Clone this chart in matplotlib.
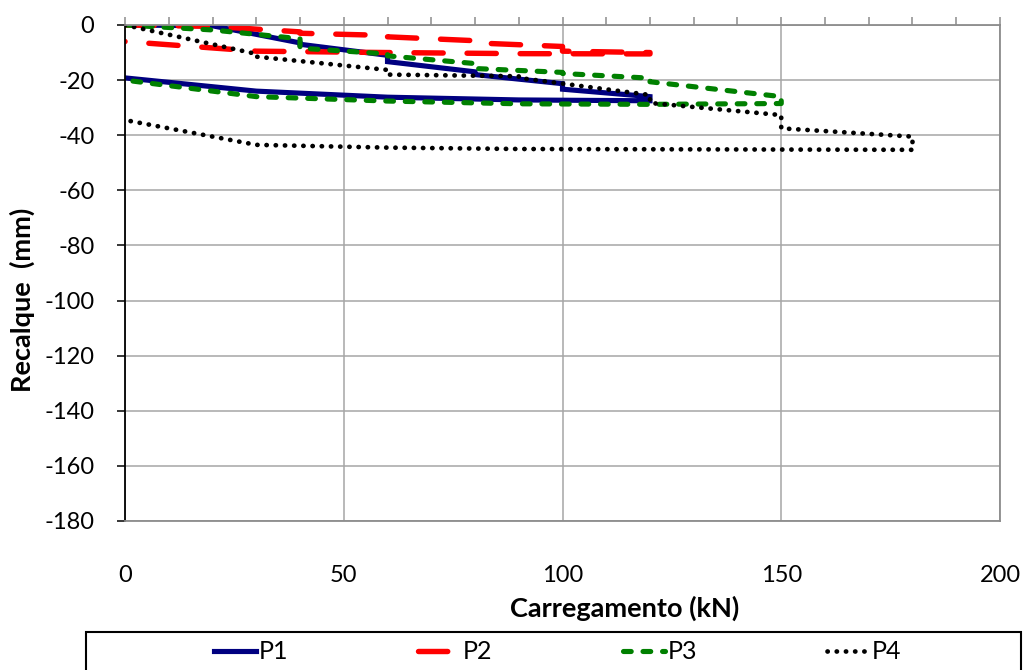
import numpy as np
import matplotlib.pyplot as plt
from matplotlib.patches import Rectangle
from matplotlib.ticker import MultipleLocator

plt.rcParams['font.family'] = ['Lato', 'DejaVu Sans']
plt.rcParams['axes.unicode_minus'] = False

# load (kN) and settlement (mm): loading branch followed by unloading branch
p1_load = [0, 20, 40, 40, 60, 60, 80, 80, 100, 100, 120, 120, 90, 60, 30, 0]
p1_rec = [0, -0.3, -6.5, -7.0, -11.0, -13.3, -17.0, -18.0, -21.3, -23.3, -26.0, -27.5,
          -27.2, -26.2, -24.0, -19.2]

p2_load = [0, 20, 40, 40, 60, 60, 80, 80, 100, 100, 120, 120, 90, 60, 30, 0]
p2_rec = [0, -0.5, -2.5, -3.0, -3.8, -4.3, -5.7, -6.5, -7.8, -9.5, -10.0, -10.5,
          -10.4, -10.0, -9.5, -6.0]

p3_load = [0, 20, 40, 40, 60, 60, 80, 80, 100, 100, 120, 120, 150, 150, 120, 90, 60, 30, 0]
p3_rec = [0, -1.8, -5.0, -8.4, -10.5, -11.2, -14.0, -15.8, -17.2, -17.6, -19.3, -20.6,
          -26.0, -28.5, -28.8, -28.6, -27.6, -26.0, -20.0]

p4_load = [0, 30, 30, 60, 60, 90, 90, 120, 120, 150, 150, 180, 180, 150, 120, 90, 60, 30, 0]
p4_rec = [0, -10.5, -11.5, -16.3, -18.0, -18.6, -19.2, -25.4, -28.3, -32.7, -37.5, -40.5,
          -45.3, -45.2, -45.1, -45.0, -44.5, -43.5, -34.5]

labels = ['P1', 'P2', 'P3', 'P4']

fig = plt.figure(figsize=(10.29, 6.70), dpi=100)
ax = fig.add_axes([0.1215, 0.2224, 0.8503, 0.7403])

l1, = ax.plot(p1_load, p1_rec, color='#000080', lw=3.7, solid_joinstyle='miter')
l2, = ax.plot(p2_load, p2_rec, color='#ff0000', lw=3.9, linestyle=(0, (5.4, 4.4)),
              dash_capstyle='round')
l3, = ax.plot(p3_load, p3_rec, color='#008000', lw=3.7, linestyle=(0, (1.5, 2.3)),
              dash_capstyle='round')
l4, = ax.plot(p4_load, p4_rec, color='black', lw=3.4, linestyle=(0, (0.05, 1.9)),
              dash_capstyle='round')

ax.set_xlim(0, 200)
ax.set_ylim(-180, 0)
ax.xaxis.set_major_locator(MultipleLocator(50))
ax.xaxis.set_minor_locator(MultipleLocator(10))
ax.yaxis.set_major_locator(MultipleLocator(20))

ax.grid(True, which='major', color='#a6a6a6', lw=1.1)
ax.set_axisbelow(True)

for s in ['top', 'right', 'bottom']:
    ax.spines[s].set_color('#8c8c8c')
    ax.spines[s].set_linewidth(1.3)
ax.spines['left'].set_color('black')
ax.spines['left'].set_linewidth(1.3)

ax.tick_params(axis='x', which='both', bottom=False, top=True, labelbottom=True,
               labeltop=False, direction='out', length=6, width=1.1,
               color='#8c8c8c', pad=26, labelsize=17)
ax.tick_params(axis='y', which='major', left=True, direction='out', length=6,
               width=1.1, color='black', pad=16, labelsize=17)

fig.text(0.607, 0.0925, 'Carregamento (kN)', ha='center', va='center',
         fontsize=19.5, fontweight='bold')
fig.text(0.0214, 0.552, 'Recalque  (mm)', ha='center', va='center',
         fontsize=19.5, fontweight='bold', rotation=90)

fig.patches.append(Rectangle((86 / 1029, -0.02), (1021 - 86) / 1029, 0.0767,
                             transform=fig.transFigure, fill=False,
                             edgecolor='black', lw=1.5, clip_on=False))
fig.legend([l1, l2, l3, l4], labels, loc='center', bbox_to_anchor=(0.542, 0.027),
           ncol=4, frameon=False, fontsize=18, handlelength=1.7,
           handletextpad=0.1, columnspacing=5.2, borderpad=0)

fig.savefig('out.png', dpi=100)
